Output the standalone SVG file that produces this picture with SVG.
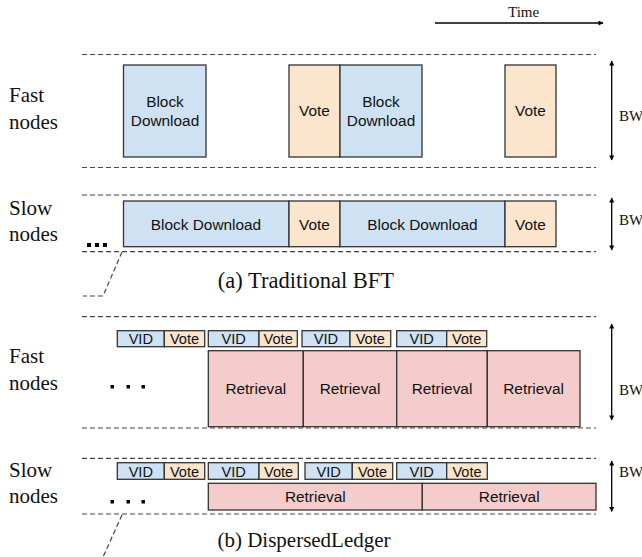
<svg xmlns="http://www.w3.org/2000/svg" width="642" height="557" viewBox="0 0 642 557">
<defs>
<marker id="ah" viewBox="0 0 10 10" refX="9" refY="5" markerWidth="7" markerHeight="5" markerUnits="userSpaceOnUse" orient="auto-start-reverse">
<path d="M0,0 L10,5 L0,10 z" fill="#000"/>
</marker>
<style>
.dash{stroke:#444;stroke-width:1.2;stroke-dasharray:5,3;fill:none}
.box{stroke:#333;stroke-width:1.3}
.blue{fill:#cfe2f3}
.org{fill:#fce5cd}
.pink{fill:#f4cccc}
.bt{font-family:"Liberation Sans",Arial,sans-serif;font-size:15.4px;fill:#111;text-anchor:middle}
.st{font-family:"Liberation Sans",Arial,sans-serif;font-size:14.6px;fill:#111;text-anchor:middle}
.lab{font-family:"Liberation Serif","Times New Roman",serif;font-size:21px;fill:#111}
.bw{font-family:"Liberation Serif","Times New Roman",serif;font-size:15px;fill:#111}
.arr{stroke:#000;stroke-width:1.3;fill:none;marker-start:url(#ah);marker-end:url(#ah)}
</style>
</defs>
<rect width="642" height="557" fill="#fff"/>

<g id="time">
<text x="508" y="17" class="bw">Time</text>
<line x1="435" y1="23" x2="603" y2="23" stroke="#000" stroke-width="1.3" marker-end="url(#ah)"/>
</g>

<g id="guides">
<line class="dash" x1="82" y1="54.5" x2="596" y2="54.5"/>
<line class="dash" x1="82" y1="167.5" x2="596" y2="167.5"/>
<line class="dash" x1="82" y1="195" x2="596" y2="195"/>
<line class="dash" x1="82" y1="251.7" x2="596" y2="251.7"/>
<polyline class="dash" points="122,252 103,296 83,296"/>
<line class="dash" x1="82" y1="316.7" x2="596" y2="316.7"/>
<line class="dash" x1="82" y1="428" x2="596" y2="428"/>
<line class="dash" x1="82" y1="458.3" x2="596" y2="458.3"/>
<line class="dash" x1="82" y1="514" x2="596" y2="514"/>
<polyline class="dash" points="122,515 103,557"/>
</g>

<g id="labels">
<text class="lab" x="9" y="102">Fast</text>
<text class="lab" x="9" y="129">nodes</text>
<text class="lab" x="9" y="215">Slow</text>
<text class="lab" x="9" y="241">nodes</text>
<text class="lab" x="9" y="363">Fast</text>
<text class="lab" x="9" y="390">nodes</text>
<text class="lab" x="9" y="477">Slow</text>
<text class="lab" x="9" y="503">nodes</text>
<text class="lab" x="306" y="288" text-anchor="middle" style="font-size:22.5px">(a) Traditional BFT</text>
<text class="lab" x="304" y="547" text-anchor="middle">(b) DispersedLedger</text>
</g>

<g id="dots">
<rect x="87" y="243" width="4" height="4" fill="#000"/>
<rect x="95" y="243" width="4" height="4" fill="#000"/>
<rect x="103" y="243" width="4" height="4" fill="#000"/>
<rect x="110.5" y="385" width="3.5" height="3.5" fill="#000"/>
<rect x="126.5" y="385" width="3.5" height="3.5" fill="#000"/>
<rect x="141.5" y="385" width="3.5" height="3.5" fill="#000"/>
<rect x="110.5" y="500" width="3.5" height="3.5" fill="#000"/>
<rect x="126.5" y="500" width="3.5" height="3.5" fill="#000"/>
<rect x="141.5" y="500" width="3.5" height="3.5" fill="#000"/>
</g>

<g id="bw-arrows">
<line class="arr" x1="611.7" y1="61" x2="611.7" y2="160"/>
<text class="bw" x="619" y="121">BW</text>
<line class="arr" x1="611.7" y1="198" x2="611.7" y2="250"/>
<text class="bw" x="619" y="225">BW</text>
<line class="arr" x1="611.7" y1="324" x2="611.7" y2="420"/>
<text class="bw" x="619" y="395">BW</text>
<line class="arr" x1="611.7" y1="461" x2="611.7" y2="511.5"/>
<text class="bw" x="619" y="477">BW</text>
</g>

<g id="a-fast">
<rect class="box blue" x="123.5" y="65" width="82.5" height="92"/>
<text class="bt" x="165" y="107">Block</text>
<text class="bt" x="165" y="126">Download</text>
<rect class="box org" x="289" y="65" width="51" height="92"/>
<text class="bt" x="314.5" y="116">Vote</text>
<rect class="box blue" x="340" y="65" width="82" height="92"/>
<text class="bt" x="381" y="107">Block</text>
<text class="bt" x="381" y="126">Download</text>
<rect class="box org" x="505" y="65" width="51" height="92"/>
<text class="bt" x="530.5" y="116">Vote</text>
</g>

<g id="a-slow">
<rect class="box blue" x="123.5" y="201" width="165.5" height="45.7"/>
<text class="bt" x="206" y="229.5">Block Download</text>
<rect class="box org" x="289" y="201" width="51" height="45.7"/>
<text class="bt" x="314.5" y="229.5">Vote</text>
<rect class="box blue" x="340" y="201" width="165" height="45.7"/>
<text class="bt" x="422.5" y="229.5">Block Download</text>
<rect class="box org" x="505" y="201" width="51" height="45.7"/>
<text class="bt" x="530.5" y="229.5">Vote</text>
</g>

<g id="b-fast">
<rect class="box blue" x="117.3" y="330.7" width="47" height="16"/>
<text class="st" x="140.8" y="344.3">VID</text>
<rect class="box org" x="164.3" y="330.7" width="40.4" height="16"/>
<text class="st" x="184.5" y="344.3">Vote</text>
<rect class="box blue" x="208.3" y="330.7" width="50.7" height="16"/>
<text class="st" x="233.6" y="344.3">VID</text>
<rect class="box org" x="259" y="330.7" width="38.3" height="16"/>
<text class="st" x="278.2" y="344.3">Vote</text>
<rect class="box blue" x="302" y="330.7" width="48" height="16"/>
<text class="st" x="326" y="344.3">VID</text>
<rect class="box org" x="350" y="330.7" width="40.7" height="16"/>
<text class="st" x="370.3" y="344.3">Vote</text>
<rect class="box blue" x="396.7" y="330.7" width="50" height="16"/>
<text class="st" x="421.7" y="344.3">VID</text>
<rect class="box org" x="446.7" y="330.7" width="40" height="16"/>
<text class="st" x="466.7" y="344.3">Vote</text>
<rect class="box pink" x="208.3" y="350.7" width="95" height="76"/>
<text class="bt" x="255.8" y="394">Retrieval</text>
<rect class="box pink" x="303.3" y="350.7" width="93.4" height="76"/>
<text class="bt" x="350" y="394">Retrieval</text>
<rect class="box pink" x="396.7" y="350.7" width="90.6" height="76"/>
<text class="bt" x="442" y="394">Retrieval</text>
<rect class="box pink" x="487.3" y="350.7" width="92.7" height="76"/>
<text class="bt" x="533.6" y="394">Retrieval</text>
</g>

<g id="b-slow">
<rect class="box blue" x="117.3" y="462.7" width="47" height="16.6"/>
<text class="st" x="140.8" y="476.5">VID</text>
<rect class="box org" x="164.3" y="462.7" width="40.4" height="16.6"/>
<text class="st" x="184.5" y="476.5">Vote</text>
<rect class="box blue" x="208.3" y="462.7" width="50.7" height="16.6"/>
<text class="st" x="233.6" y="476.5">VID</text>
<rect class="box org" x="259" y="462.7" width="39.3" height="16.6"/>
<text class="st" x="278.6" y="476.5">Vote</text>
<rect class="box blue" x="305" y="462.7" width="47.3" height="16.6"/>
<text class="st" x="328.6" y="476.5">VID</text>
<rect class="box org" x="352.3" y="462.7" width="40.4" height="16.6"/>
<text class="st" x="372.5" y="476.5">Vote</text>
<rect class="box blue" x="396.7" y="462.7" width="50" height="16.6"/>
<text class="st" x="421.7" y="476.5">VID</text>
<rect class="box org" x="446.7" y="462.7" width="40.6" height="16.6"/>
<text class="st" x="467" y="476.5">Vote</text>
<rect class="box pink" x="208.3" y="483.3" width="214" height="26.7"/>
<text class="bt" x="315.3" y="502">Retrieval</text>
<rect class="box pink" x="422.3" y="483.3" width="173.7" height="26.7"/>
<text class="bt" x="509.2" y="502">Retrieval</text>
</g>
</svg>
